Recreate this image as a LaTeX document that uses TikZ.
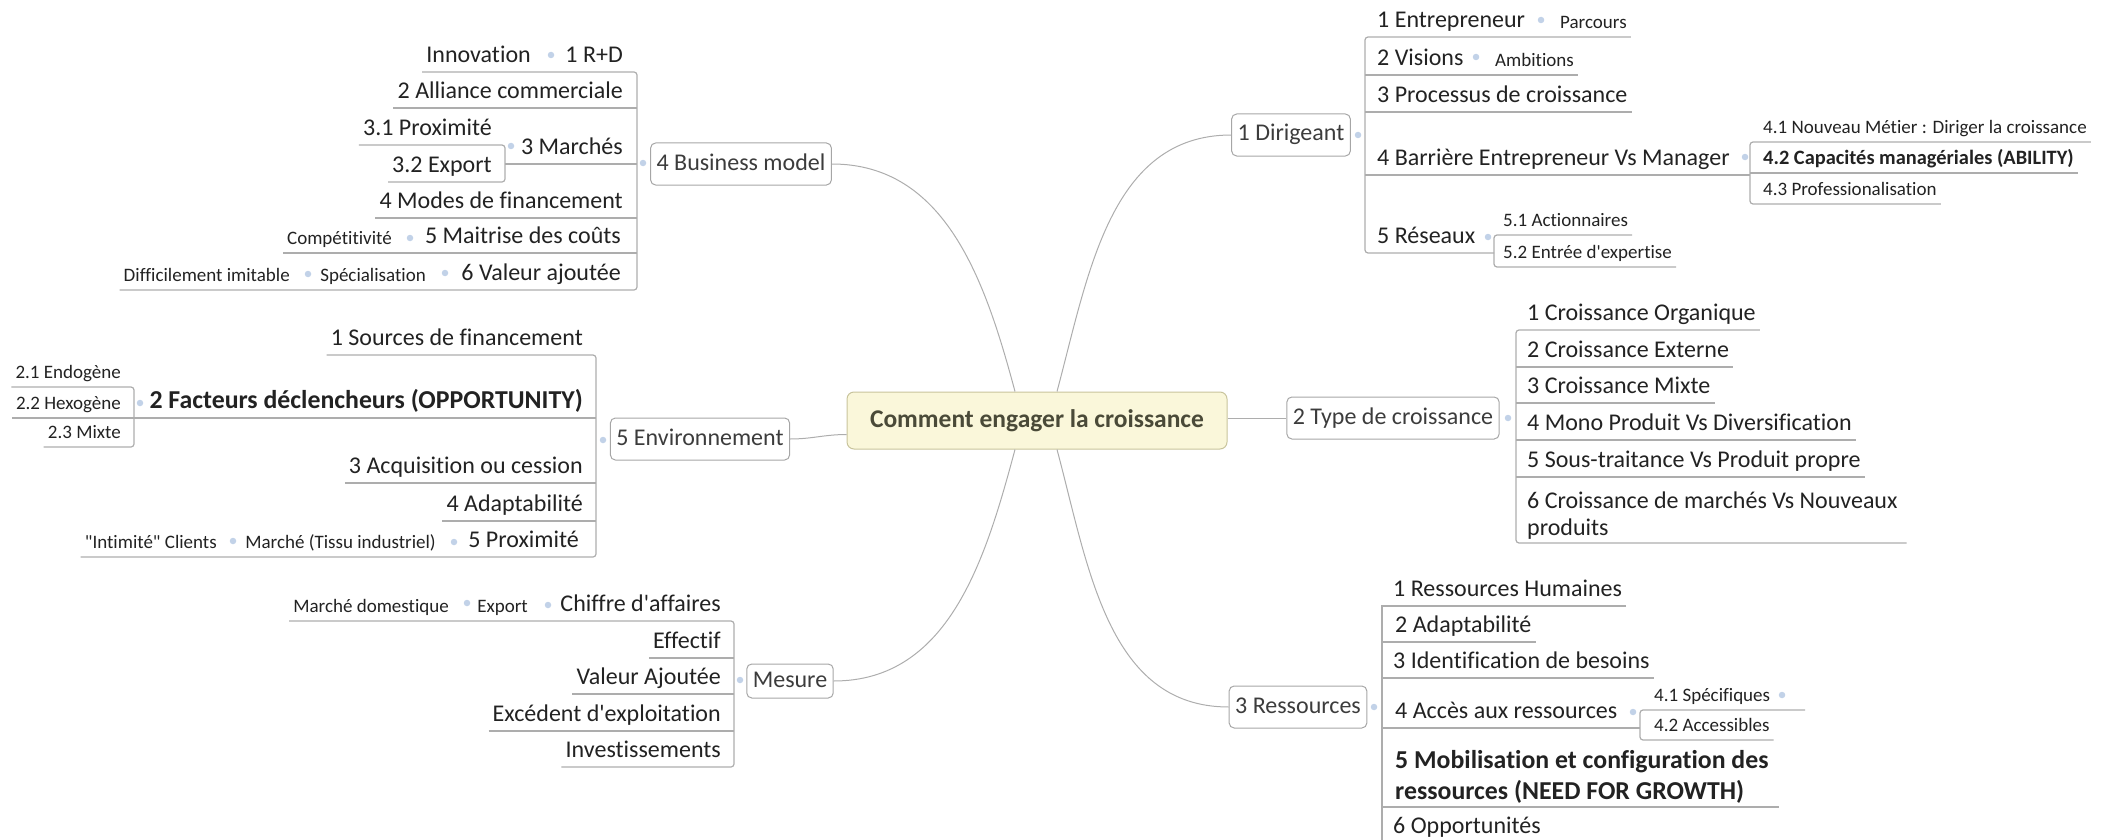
\documentclass[tikz,border=0pt]{standalone}
\usepackage{fontspec}
\setmainfont{Carlito}[Ligatures={TeXOff,CommonOff}]

\newcommand{\mapnorm}{\fontsize{24}{29}\selectfont}
\newcommand{\mapbold}{\fontsize{25.8}{31}\selectfont\bfseries}
\newcommand{\mapsmall}{\fontsize{19}{23}\selectfont}
\newcommand{\mapsmallbold}{\fontsize{20.4}{24}\selectfont\bfseries}
\newcommand{\maproot}{\fontsize{25.5}{30}\selectfont\bfseries}

\definecolor{rootfill}{HTML}{FAF7DA}
\definecolor{rootline}{HTML}{C8C49C}
\definecolor{roottext}{HTML}{4A4A38}
\definecolor{boxline}{HTML}{A6A6A6}
\definecolor{topictext}{HTML}{3C3C3C}
\definecolor{subtext}{HTML}{222222}
\definecolor{ulinecol}{HTML}{ADADAD}
\definecolor{linkcol}{HTML}{ADADAD}
\definecolor{knobcol}{HTML}{C2D2E8}

\tikzset{
  root/.style={draw=rootline, fill=rootfill, line width=1pt, rounded corners=7pt,
    minimum width=380pt, minimum height=57pt, font=\maproot, text=roottext},
  topic/.style={draw=boxline, line width=1pt, rounded corners=5pt, minimum height=42pt,
    inner xsep=6pt, font=\mapnorm, text=topictext, text height=17pt, text depth=5pt},
  subbase/.style={font=\mapnorm, text=subtext, inner xsep=4pt, inner ysep=3pt},
  sub/.style={subbase, text height=18pt, text depth=6pt},
  small/.style={font=\mapsmall, text=subtext, inner xsep=4pt, inner ysep=3pt,
    text height=14pt, text depth=5pt},
  uline/.style={draw=ulinecol, line width=1.2pt},
  link/.style={draw=linkcol, line width=1pt},
  knob/.style={circle, fill=knobcol, inner sep=0pt, minimum size=6.5pt},
}

\begin{document}
\begin{tikzpicture}[x=1pt, y=1pt]
\useasboundingbox (0,0) rectangle (2109,-840);

% centre
\node[root] (root) at (1037,-420.5) {Comment engager la croissance};

% main topics
\node[topic] (bm) at (741,-164) {4 Business model};
\node[topic] (en) at (700,-439) {5 Environnement};
\node[topic, minimum height=34pt] (me) at (790,-681) {Mesure};
\node[topic] (di) at (1291,-135) {1 Dirigeant};
\node[topic] (ty) at (1393,-418) {2 Type de croissance};
\node[topic] (re) at (1298,-707) {3 Ressources};

\draw[link] (bm.east) to[out=0,in=105] ([xshift=-22pt]root.north);
\draw[link] ([xshift=20pt]root.north) to[out=75,in=180] (di.west);
\draw[link] (en.east) to[out=0,in=180] ([yshift=-14pt]root.west);
\draw[link] (root.east |- ty.west) -- (ty.west);
\draw[link] (me.east) to[out=0,in=-105] ([xshift=-22pt]root.south);
\draw[link] ([xshift=20pt]root.south) to[out=-75,in=180] (re.west);

% 4 Business model
\coordinate (bmbar) at (637,-164);
\coordinate (mkbar) at (505,-164);
\node[sub, anchor=south east] (bm1) at (627,-72) {1 R+D};
\node[sub, anchor=south east] (bm1a) at (535,-72) {Innovation};
\node[sub, anchor=south east] (bm2) at (627,-108) {2 Alliance commerciale};
\node[sub, anchor=south east] (bm3) at (627,-164) {3 Marchés};
\node[sub, anchor=south east] (bm31) at (496,-145) {3.1 Proximité};
\node[sub, anchor=south east] (bm32) at (496,-182) {3.2 Export};
\node[sub, anchor=south east] (bm4) at (627,-218) {4 Modes de financement};
\node[sub, anchor=south east] (bm5) at (625,-253) {5 Maitrise des coûts};
\node[small, anchor=south east] (bm5a) at (396,-253) {Compétitivité};
\node[sub, anchor=south east] (bm6) at (625,-290) {6 Valeur ajoutée};
\node[small, anchor=south east] (bm6a) at (430,-290) {Spécialisation};
\node[small, anchor=south east] (bm6b) at (294,-290) {Difficilement imitable};
\draw[uline, rounded corners=3pt] (bm1a.south west) -- (bm1.south -| bmbar)
  -- (bm6.south -| bmbar) -- (bm6b.south west);
\draw[uline] (bm2.south west) -- (bm2.south -| bmbar);
\draw[uline] (mkbar) -- (bm3.south -| bmbar);
\draw[uline, rounded corners=3pt] (bm31.south west) -- (bm31.south -| mkbar)
  -- (bm32.south -| mkbar) -- (bm32.south west);
\draw[uline] (bm4.south west) -- (bm4.south -| bmbar);
\draw[uline] (bm5a.south west) -- (bm5.south -| bmbar);
\node[knob] (kbm) at (643,-163) {};
\node[knob] (kbm1) at (551,-55) {};
\node[knob] (kbm3) at (511,-146) {};
\node[knob] (kbm5) at (410,-238) {};
\node[knob] (kbm6) at (445,-273) {};
\node[knob] (kbm6a) at (308,-274) {};

% 5 Environnement
\coordinate (enbar) at (596,-439);
\coordinate (fcbar) at (134,-418);
\node[sub, anchor=south east] (en1) at (587,-355) {1 Sources de financement};
\node[sub, anchor=south east, font=\mapbold] (en2) at (587,-418) {2 Facteurs déclencheurs (OPPORTUNITY)};
\node[small, anchor=south east] (en21) at (125,-387) {2.1 Endogène};
\node[small, anchor=south east] (en22) at (125,-418) {2.2 Hexogène};
\node[small, anchor=south east] (en23) at (125,-447) {2.3 Mixte};
\node[sub, anchor=south east] (en3) at (587,-483) {3 Acquisition ou cession};
\node[sub, anchor=south east] (en4) at (587,-521) {4 Adaptabilité};
\node[sub, anchor=south east] (en5) at (583,-557) {5 Proximité};
\node[small, anchor=south east] (en5a) at (440,-557) {Marché (Tissu industriel)};
\node[small, anchor=south east] (en5b) at (221,-557) {"Intimité" Clients};
\draw[uline, rounded corners=3pt] (en1.south west) -- (en1.south -| enbar)
  -- (en5.south -| enbar) -- (en5b.south west);
\draw[uline] (fcbar) -- (en2.south -| enbar);
\draw[uline, rounded corners=3pt] (en21.south west) -- (en21.south -| fcbar)
  -- (en23.south -| fcbar) -- (en23.south west);
\draw[uline] (en22.south west) -- (en22.south -| fcbar);
\draw[uline] (en3.south west) -- (en3.south -| enbar);
\draw[uline] (en4.south west) -- (en4.south -| enbar);
\node[knob] (ken) at (603,-440) {};
\node[knob] (ken2) at (140,-403) {};
\node[knob] (ken5) at (454,-542) {};
\node[knob] (ken5a) at (233,-541) {};

% Mesure
\coordinate (mebar) at (734,-681);
\node[sub, anchor=south east] (me1) at (725,-621) {Chiffre d'affaires};
\node[small, anchor=south east] (me1a) at (532,-621) {Export};
\node[small, anchor=south east] (me1b) at (453,-621) {Marché domestique};
\node[sub, anchor=south east] (me2) at (725,-658) {Effectif};
\node[sub, anchor=south east] (me3) at (725,-694) {Valeur Ajoutée};
\node[sub, anchor=south east] (me4) at (725,-731) {Excédent d'exploitation};
\node[sub, anchor=south east] (me5) at (725,-767) {Investissements};
\draw[uline, rounded corners=3pt] (me1b.south west) -- (me1.south -| mebar)
  -- (me5.south -| mebar) -- (me5.south west);
\draw[uline] (me2.south west) -- (me2.south -| mebar);
\draw[uline] (me3.south west) -- (me3.south -| mebar);
\draw[uline] (me4.south west) -- (me4.south -| mebar);
\node[knob] (kme) at (740,-680) {};
\node[knob] (kme1) at (548,-605) {};
\node[knob] (kme1a) at (467,-603) {};

% 1 Dirigeant
\coordinate (dibar) at (1365,-135);
\coordinate (babar) at (1750,-175);
\coordinate (rsbar) at (1494,-253);
\node[sub, anchor=south west] (di1) at (1373,-37) {1 Entrepreneur};
\node[small, anchor=south west] (di1a) at (1556,-37) {Parcours};
\node[sub, anchor=south west] (di2) at (1373,-75) {2 Visions};
\node[small, anchor=south west] (di2a) at (1491,-75) {Ambitions};
\node[sub, anchor=south west] (di3) at (1373,-112) {3 Processus de croissance};
\node[sub, anchor=south west] (di4) at (1373,-175) {4 Barrière Entrepreneur Vs Manager};
\node[small, anchor=south west] (di41) at (1759,-142) {4.1 Nouveau Métier : Diriger la croissance};
\node[small, anchor=south west, font=\mapsmallbold] (di42) at (1759,-173) {4.2 Capacités managériales (ABILITY)};
\node[small, anchor=south west] (di43) at (1759,-204) {4.3 Professionalisation};
\node[sub, anchor=south west] (di5) at (1373,-253) {5 Réseaux};
\node[small, anchor=south west] (di51) at (1499,-235) {5.1 Actionnaires};
\node[small, anchor=south west] (di52) at (1499,-267) {5.2 Entrée d'expertise};
\draw[uline, rounded corners=3pt] (di1a.south east) -- (di1.south -| dibar)
  -- (di5.south -| dibar) -- (rsbar);
\draw[uline] (di2.south -| dibar) -- (di2a.south east);
\draw[uline] (di3.south -| dibar) -- (di3.south east);
\draw[uline] (di4.south -| dibar) -- (babar);
\draw[uline, rounded corners=3pt] (di41.south east) -- (di41.south -| babar)
  -- (di43.south -| babar) -- (di43.south east);
\draw[uline] (di42.south -| babar) -- (di42.south east);
\draw[uline, rounded corners=3pt] (di51.south east) -- (di51.south -| rsbar)
  -- (di52.south -| rsbar) -- (di52.south east);
\node[knob] (kdi) at (1358,-135) {};
\node[knob] (kdi1) at (1541,-20) {};
\node[knob] (kdi2) at (1476,-57) {};
\node[knob] (kdi4) at (1745,-157) {};
\node[knob] (kdi5) at (1488,-237) {};

% 2 Type de croissance
\coordinate (tybar) at (1516,-418);
\node[sub, anchor=south west] (ty1) at (1523,-330) {1 Croissance Organique};
\node[sub, anchor=south west] (ty2) at (1523,-367) {2 Croissance Externe};
\node[sub, anchor=south west] (ty3) at (1523,-403) {3 Croissance Mixte};
\node[sub, anchor=south west] (ty4) at (1523,-440) {4 Mono Produit Vs Diversification};
\node[sub, anchor=south west] (ty5) at (1523,-477) {5 Sous-traitance Vs Produit propre};
\node[subbase, anchor=south west, align=left, font=\fontsize{24}{27}\selectfont] (ty6) at (1523,-543)
  {6 Croissance de marchés Vs Nouveaux\\produits};
\draw[uline, rounded corners=3pt] (ty1.south east) -- (ty1.south -| tybar)
  -- (ty6.south -| tybar) -- ([xshift=5pt]ty6.south east);
\draw[uline] (ty2.south -| tybar) -- (ty2.south east);
\draw[uline] (ty3.south -| tybar) -- (ty3.south east);
\draw[uline] (ty4.south -| tybar) -- (ty4.south east);
\draw[uline] (ty5.south -| tybar) -- (ty5.south east);
\node[knob] (kty) at (1508,-418) {};

% 3 Ressources
\coordinate (rebar) at (1382,-707);
\coordinate (acbar) at (1640,-728);
\node[sub, anchor=south west] (re1) at (1389,-606) {1 Ressources Humaines};
\node[sub, anchor=south west] (re2) at (1391,-642) {2 Adaptabilité};
\node[sub, anchor=south west] (re3) at (1389,-678) {3 Identification de besoins};
\node[sub, anchor=south west] (re4) at (1391,-728) {4 Accès aux ressources};
\node[small, anchor=south west] (re41) at (1650,-710) {4.1 Spécifiques};
\node[small, anchor=south west] (re42) at (1650,-740) {4.2 Accessibles};
\node[subbase, anchor=south west, align=left, font=\mapbold] (re5) at (1391,-807)
  {5 Mobilisation et configuration des\\ressources (NEED FOR GROWTH)};
\node[sub, anchor=south west] (re6) at (1389,-843) {6 Opportunités};
\node[knob] (kre) at (1374,-707) {};
\node[knob] (kre4) at (1633,-712) {};
\node[knob] (kre41) at (1782,-695) {};
\draw[uline] (re1.south east) -- (re1.south -| rebar) -- (re6.south -| rebar);
\draw[uline] (re2.south -| rebar) -- (re2.south east);
\draw[uline] (re3.south -| rebar) -- (re3.south east);
\draw[uline] (re4.south -| rebar) -- (acbar);
\draw[uline, rounded corners=3pt] ([xshift=23pt]kre41.center |- re41.south) -- (re41.south -| acbar)
  -- (re42.south -| acbar) -- (re42.south east);
\draw[uline] (re5.south -| rebar) -- ([xshift=6pt]re5.south east);
\draw[uline] (re6.south -| rebar) -- (re6.south east);
\end{tikzpicture}
\end{document}
